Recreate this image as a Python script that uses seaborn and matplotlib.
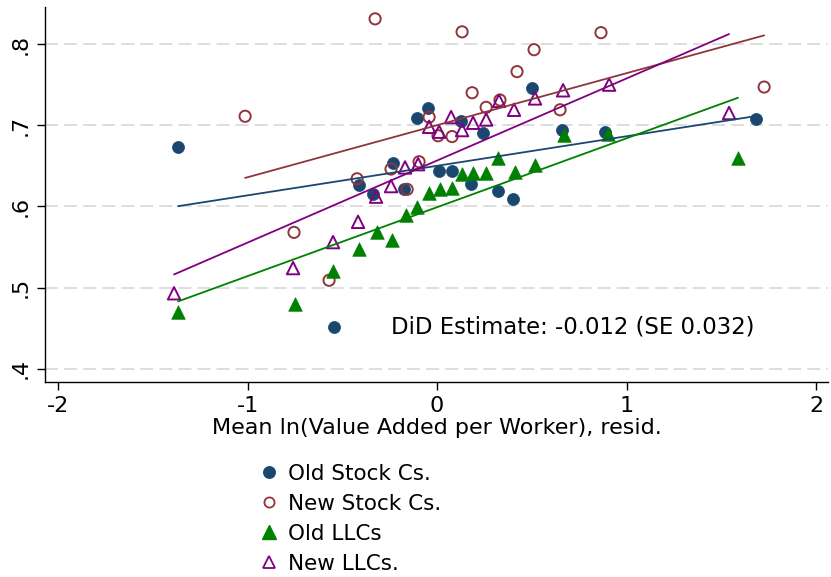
import matplotlib
matplotlib.use("Agg")
import matplotlib.pyplot as plt
from matplotlib.lines import Line2D
import seaborn as sns
import pandas as pd

# binned means
old_stock_x = [-1.367, -0.544, -0.412, -0.338, -0.232, -0.174, -0.106, -0.047, 0.011, 0.079,
               0.127, 0.179, 0.243, 0.322, 0.401, 0.501, 0.660, 0.887, 1.683]
old_stock_y = [0.673, 0.451, 0.626, 0.615, 0.653, 0.621, 0.709, 0.721, 0.644, 0.644,
               0.705, 0.628, 0.690, 0.619, 0.609, 0.746, 0.694, 0.692, 0.708]

new_stock_x = [-1.013, -0.755, -0.570, -0.422, -0.327, -0.243, -0.158, -0.095, -0.042, 0.005,
               0.079, 0.132, 0.185, 0.259, 0.332, 0.422, 0.512, 0.649, 0.865, 1.726]
new_stock_y = [0.711, 0.568, 0.509, 0.634, 0.831, 0.646, 0.621, 0.655, 0.710, 0.687,
               0.686, 0.815, 0.740, 0.722, 0.731, 0.766, 0.793, 0.719, 0.814, 0.747]

old_llc_x = [-1.367, -0.749, -0.549, -0.412, -0.317, -0.237, -0.164, -0.106, -0.042, 0.016,
             0.079, 0.132, 0.190, 0.259, 0.322, 0.412, 0.517, 0.670, 0.902, 1.588]
old_llc_y = [0.470, 0.480, 0.520, 0.548, 0.568, 0.559, 0.590, 0.599, 0.617, 0.621,
             0.623, 0.640, 0.641, 0.641, 0.659, 0.642, 0.651, 0.688, 0.689, 0.659]

new_llc_x = [-1.388, -0.760, -0.549, -0.417, -0.322, -0.243, -0.169, -0.100, -0.042, 0.011,
             0.074, 0.132, 0.190, 0.259, 0.327, 0.406, 0.517, 0.665, 0.908, 1.541]
new_llc_y = [0.493, 0.524, 0.556, 0.581, 0.612, 0.625, 0.648, 0.652, 0.698, 0.692,
             0.710, 0.694, 0.703, 0.707, 0.730, 0.719, 0.733, 0.743, 0.750, 0.715]

# linear fit (intercept, slope) per group, as drawn in the reference
fit_intercepts = [0.650, 0.700, 0.599, 0.6565]
fit_slopes = [0.0364, 0.0641, 0.0849, 0.1011]

labels = ["Old Stock Cs.", "New Stock Cs.", "Old LLCs", "New LLCs."]
xticks = [-2, -1, 0, 1, 2]
yticks = [0.4, 0.5, 0.6, 0.7, 0.8]
ytick_labels = [".4", ".5", ".6", ".7", ".8"]
note = "DiD Estimate: -0.012 (SE 0.032)"

navy, maroon, green, purple = "#1a476f", "#90353b", "#008000", "#800080"

sns.set_style("white")
plt.rcParams["font.family"] = ["DejaVu Sans"]
plt.rcParams["text.color"] = "black"
plt.rcParams["xtick.color"] = "black"
plt.rcParams["ytick.color"] = "black"
plt.rcParams["axes.labelcolor"] = "black"

fig = plt.figure(figsize=(8.31, 5.77), dpi=100)
ax = fig.add_axes([45 / 831, 1 - 382 / 577, 783 / 831, 375 / 577])

groups = [
    (old_stock_x, old_stock_y, navy, "o", True),
    (new_stock_x, new_stock_y, maroon, "o", False),
    (old_llc_x, old_llc_y, green, "^", True),
    (new_llc_x, new_llc_y, purple, "^", False),
]

for gx, gy, col, mk, filled in groups:
    df = pd.DataFrame({"x": gx, "y": gy})
    if filled:
        size = 75 if mk == "o" else 95
        sns.scatterplot(data=df, x="x", y="y", marker=mk, s=size, color=col,
                        edgecolor=col, linewidth=0.5, ax=ax, zorder=3)
    else:
        size = 65 if mk == "o" else 80
        sns.scatterplot(data=df, x="x", y="y", marker=mk, s=size, facecolor="none",
                        edgecolor=col, linewidth=1.4, ax=ax, zorder=3)

# fitted lines across each group's x range
for (gx, gy, col, mk, filled), a, b in zip(groups, fit_intercepts, fit_slopes):
    xs = [min(gx), max(gx)]
    fit = pd.DataFrame({"x": xs, "y": [a + b * v for v in xs]})
    sns.lineplot(data=fit, x="x", y="y", color=col, lw=1.3, ax=ax, zorder=4)

ax.set_xlim(-2.069, 2.063)
ax.set_ylim(0.3837, 0.8456)
ax.set_xticks(xticks)
ax.set_xticklabels([str(t) for t in xticks], fontsize=16)
ax.set_yticks(yticks)
ax.set_yticklabels(ytick_labels, fontsize=16, rotation=90, va="center")
ax.tick_params(axis="both", direction="out", length=6, width=1,
               left=True, bottom=True, pad=4)
ax.set_xlabel("Mean ln(Value Added per Worker), resid.", fontsize=16, labelpad=1.5)
ax.set_ylabel("")

for v in yticks:
    ax.axhline(v, color="#dedede", lw=1.4, ls=(0, (6.7, 3.1)), zorder=0)

for side in ["top", "right"]:
    ax.spines[side].set_visible(False)
for side in ["left", "bottom"]:
    ax.spines[side].set_color("black")
    ax.spines[side].set_linewidth(1)

ax.text(-0.243, 0.451, note, fontsize=16.4, va="center", ha="left")

handles = [
    Line2D([], [], ls="none", marker="o", ms=8.3, color=navy, mec=navy),
    Line2D([], [], ls="none", marker="o", ms=7.3, mfc="none", mec=maroon, mew=1.3),
    Line2D([], [], ls="none", marker="^", ms=10, color=green, mec=green),
    Line2D([], [], ls="none", marker="^", ms=9, mfc="none", mec=purple, mew=1.3),
]
fig.legend(handles, labels, loc="upper left", bbox_to_anchor=(259 / 831, 1 - 464 / 577),
           frameon=False, fontsize=15.5, handlelength=0.9, handletextpad=0.45,
           labelspacing=0.46, borderaxespad=0, borderpad=0)

fig.savefig("out.png", dpi=100)
